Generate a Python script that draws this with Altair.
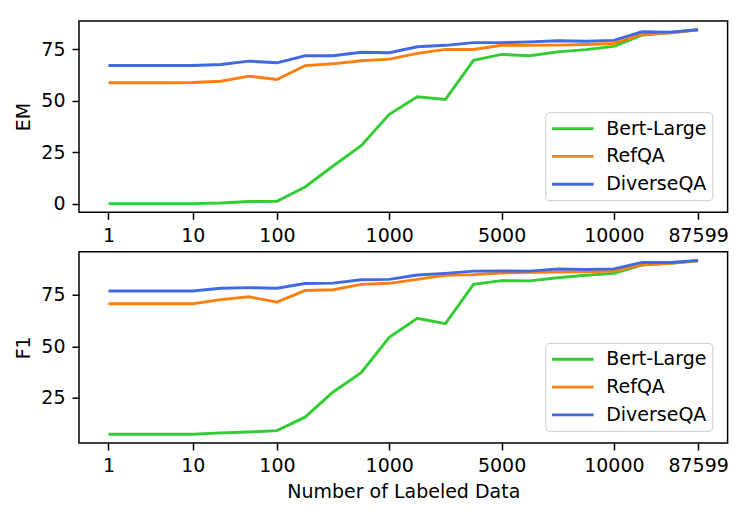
import altair as alt
import pandas as pd

# x positions (evenly spaced sample index) and the tick labels used on the axis
positions = list(range(22))
tick_pos = [0, 3, 6, 10, 14, 18, 21]
tick_labels = ["1", "10", "100", "1000", "5000", "10000", "87599"]

series = ["Bert-Large", "RefQA", "DiverseQA"]
colors = ["#32cd32", "#ff7f0e", "#4169e1"]

em_bert = [0, 0, 0, 0, 0.3, 1.0, 1.1, 8.1, 18.3, 28.2, 43.4, 52.0, 50.7, 69.7, 72.6, 71.9, 73.8, 74.9, 76.5, 82.0, 83.1, 84.6]
em_ref = [58.8, 58.8, 58.8, 58.9, 59.5, 62.0, 60.4, 67.1, 68.0, 69.5, 70.3, 73.1, 75.0, 75.0, 77.0, 77.0, 77.1, 77.4, 77.9, 82.3, 83.1, 84.6]
em_div = [67.2, 67.2, 67.2, 67.2, 67.7, 69.3, 68.5, 71.9, 71.9, 73.6, 73.4, 76.3, 77.0, 78.3, 78.3, 78.7, 79.2, 79.0, 79.4, 83.6, 83.4, 84.6]

f1_bert = [7.4, 7.4, 7.4, 7.4, 8.1, 8.5, 9.2, 15.7, 27.9, 37.2, 54.4, 63.6, 61.0, 80.0, 81.8, 81.7, 83.2, 84.4, 85.3, 89.3, 90.2, 91.4]
f1_ref = [70.6, 70.6, 70.6, 70.6, 72.6, 74.0, 71.4, 77.0, 77.4, 80.0, 80.5, 82.4, 84.4, 84.7, 85.5, 85.8, 86.0, 86.1, 86.4, 89.5, 90.2, 91.4]
f1_div = [76.8, 76.8, 76.8, 76.8, 78.1, 78.4, 78.1, 80.4, 80.6, 82.2, 82.4, 84.5, 85.3, 86.4, 86.5, 86.4, 87.4, 87.2, 87.5, 90.6, 90.6, 91.6]


def make_df(lists):
    rows = []
    for name, vals in zip(series, lists):
        for i, v in zip(positions, vals):
            rows.append({"i": i, "model": name, "v": v})
    return pd.DataFrame(rows)


label_expr = ""
for p, l in zip(tick_pos, tick_labels):
    label_expr += f"datum.value == {p} ? '{l}' : "
label_expr += "''"

FONT = "DejaVu Sans"


def panel(df, ytitle, ydom, yvals, xtitle):
    return alt.Chart(df).mark_line(strokeWidth=2.9, clip=True).encode(
        x=alt.X("i:Q",
                scale=alt.Scale(domain=[-1.05, 22.05], nice=False, zero=False),
                axis=alt.Axis(values=tick_pos, labelExpr=label_expr, title=xtitle,
                              labelFlush=False, labelOverlap=False)),
        y=alt.Y("v:Q",
                scale=alt.Scale(domain=ydom, nice=False, zero=False),
                axis=alt.Axis(values=yvals, title=ytitle)),
        color=alt.Color("model:N",
                        scale=alt.Scale(domain=series, range=colors),
                        legend=alt.Legend(title=None, orient="none", legendX=466.3, legendY=91.2,
                                          padding=5.4, strokeColor="#cccccc",
                                          fillColor="rgba(255,255,255,0.8)", cornerRadius=4,
                                          labelFontSize=19, labelColor="black", labelFont=FONT,
                                          symbolType="M-1.02,0H3.36", symbolSize=361,
                                          symbolStrokeWidth=2.9, rowPadding=6.8,
                                          labelOffset=33.5)),
    ).properties(width=648.6, height=191.3)


top = panel(make_df([em_bert, em_ref, em_div]), "EM", [-4.23, 88.83], [0, 25, 50, 75], "")
bottom = panel(make_df([f1_bert, f1_ref, f1_div]), "F1", [3.19, 95.81], [25, 50, 75],
               "Number of Labeled Data")

chart = alt.vconcat(top, bottom, spacing=38.7, bounds="flush").resolve_legend(
    color="independent"
).properties(
    padding={"left": 6, "top": 12, "right": 5, "bottom": 5}
).configure(font=FONT).configure_view(
    stroke="black", strokeWidth=1.5
).configure_axis(
    domain=False, grid=False, tickColor="black", tickWidth=1.5, tickSize=7,
    labelFontSize=19, labelColor="black", labelPadding=7, labelFont=FONT,
    titleFontSize=19, titleFontWeight="normal", titleColor="black", titlePadding=7,
    titleFont=FONT
)

chart.save("out.html", embed_options={"renderer": "svg", "actions": False})
